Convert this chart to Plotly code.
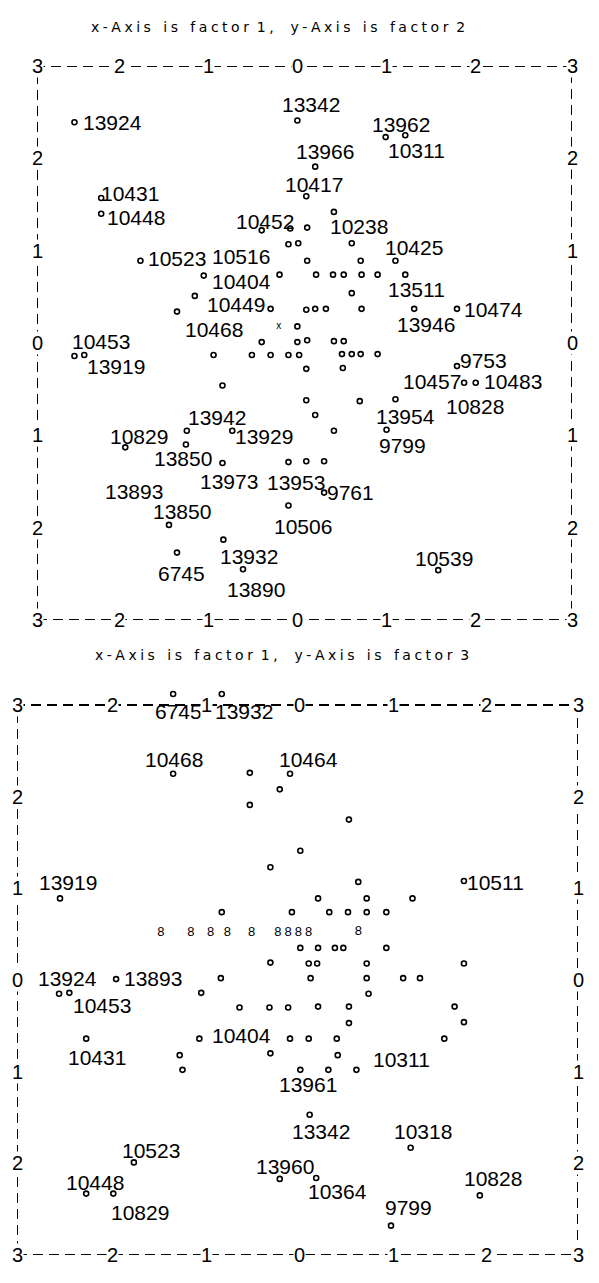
import plotly.graph_objects as go

# ---------------- data: panel 1 (factor 1 vs factor 2) ----------------
top_f1 = [-2.58, -0.08, 0.91, 1.13, 0.12, 0.02, -2.28, -2.28, 0.33, -0.48,
          -0.16, 0.03, -0.18, -0.07, 0.53, -1.84, 0.03, 0.63, 1.02, -1.13,
          -0.28, 0.13, 0.32, 0.44, 0.64, 0.82, 1.13, 0.53, -1.23, -1.43,
          -0.38, 0.02, 0.12, 0.24, 0.64, 1.23, 1.71, -0.08, -0.48, -0.08,
          0.03, 0.33, 0.44, -2.58, -2.47, -1.02, -0.59, -0.38, -0.18, -0.06,
          0.42, 0.53, 0.63, 0.82, 0.02, 0.43, 1.71, 1.79, 1.92, -0.92,
          0.02, 0.62, 1.02, 0.12, -1.32, -0.81, 0.33, 0.92, -1.33, -2.01,
          -0.92, -0.18, 0.02, 0.22, 0.22, -1.52, -0.18, -0.91, -1.43, -0.69,
          1.50]
top_f2 = [2.39, 2.41, 2.23, 2.25, 1.91, 1.59, 1.57, 1.40, 1.42, 1.22,
          1.24, 1.25, 1.07, 1.08, 1.08, 0.89, 0.89, 0.89, 0.89, 0.73,
          0.74, 0.74, 0.74, 0.74, 0.74, 0.74, 0.74, 0.54, 0.51, 0.34,
          0.37, 0.36, 0.37, 0.37, 0.37, 0.37, 0.37, 0.18, 0.01, 0.01,
          0.03, 0.02, 0.02, -0.14, -0.13, -0.13, -0.13, -0.13, -0.13, -0.13,
          -0.12, -0.12, -0.12, -0.12, -0.28, -0.27, -0.25, -0.43, -0.43, -0.46,
          -0.62, -0.63, -0.61, -0.78, -0.95, -0.95, -0.95, -0.94, -1.10, -1.13,
          -1.30, -1.29, -1.28, -1.28, -1.62, -1.97, -1.76, -2.13, -2.27, -2.45,
          -2.46]
top_cross_f1 = [-0.29]
top_cross_f2 = [0.18]
top_label_text = ["13924", "13342", "13962", "10311", "13966", "10417", "10431", "10448",
                  "10238", "10452", "10523", "10516", "10425", "10404", "13511", "10449",
                  "10468", "13946", "10474", "10453", "13919", "9753", "10457", "10483",
                  "10828", "13954", "9799", "13942", "13929", "10829", "13850", "13973",
                  "13893", "13850", "13953", "9761", "10506", "13932", "6745", "13890",
                  "10539"]
top_label_point = [0, 1, 2, 3, 4, 5, 6, 7,
                   8, 9, 15, 12, 18, 19, 26, 30,
                   29, 35, 36, 43, 44, 56, 57, 58,
                   58, 62, 67, 64, 65, 69, 70, 70,
                   75, 75, 71, 74, 76, 77, 78, 79,
                   80]

# ---------------- data: panel 2 (factor 1 vs factor 3) ----------------
bot_f1 = [-1.33, -0.81, -1.33, -0.08, -0.51, -0.19, -0.51, 0.55, 0.03, -0.29,
          -2.54, 1.78, 0.65, 0.22, 0.74, 1.23, -0.81, -0.06, 0.34, 0.54,
          0.74, 0.95, 0.03, 0.22, 0.40, 0.49, 0.95, -0.29, 0.12, 0.21,
          0.74, 1.78, -1.94, -0.82, 0.14, 0.74, 1.13, 1.31, -2.55, -2.44,
          -1.03, 0.76, -0.62, -0.30, -0.10, 0.22, 0.55, 1.68, 0.55, 1.78,
          -2.26, -1.05, -0.08, 0.12, 0.42, 1.57, -0.29, -1.26, 0.43, -1.23,
          0.03, 0.33, 0.63, 0.13, 1.21, -1.75, -0.19, 0.20, 1.95, 1.00,
          -2.26, -1.97]
bot_f3 = [3.12, 3.12, 2.25, 2.25, 2.26, 2.08, 1.91, 1.75, 1.41, 1.23,
          0.89, 1.08, 1.07, 0.89, 0.89, 0.89, 0.74, 0.74, 0.74, 0.74,
          0.74, 0.74, 0.35, 0.35, 0.35, 0.35, 0.35, 0.19, 0.18, 0.18,
          0.18, 0.18, 0.01, 0.02, 0.02, 0.02, 0.02, 0.02, -0.15, -0.14,
          -0.14, -0.15, -0.30, -0.30, -0.30, -0.29, -0.29, -0.29, -0.47, -0.46,
          -0.64, -0.64, -0.64, -0.64, -0.64, -0.64, -0.80, -0.82, -0.82, -0.98,
          -0.98, -0.98, -0.98, -1.47, -1.83, -1.99, -2.17, -2.16, -2.35, -2.68,
          -2.33, -2.33]
# coincident pairs, plotted as "8"
bot_pair_f1 = [-1.46, -1.14, -0.93, -0.75, -0.49, -0.21, -0.10, 0.01, 0.12, 0.65]
bot_pair_f3 = [0.51, 0.51, 0.51, 0.51, 0.51, 0.51, 0.51, 0.51, 0.51, 0.53]
bot_label_text = ["6745", "13932", "10468", "10464", "13919", "10511", "13924", "13893",
                  "10453", "10431", "10404", "10311", "13961", "13342", "10318", "10523",
                  "13960", "10364", "10828", "9799", "10448", "10829"]
bot_label_point = [0, 1, 2, 3, 10, 11, 38, 32,
                   39, 50, 51, 55, 60, 63, 64, 65,
                   66, 67, 68, 69, 70, 71]

ticks = [-3, -2, -1, 0, 1, 2, 3]
tick_text = ["3", "2", "1", "0", "1", "2", "3"]
titles = ["x-Axis  is  factor 1,   y-Axis  is  factor 2",
          "x-Axis  is  factor 1,   y-Axis  is  factor 3"]

# ---------------- styles ----------------
top_label_shift = [(38, 0), (14, 16), (15, 13), (11, -15), (10, 15), (8, 12), (29, 5), (35, -4),
                   (25, -15), (3, 9), (37, 2), (-47, -12), (19, 13), (38, -6), (11, -15), (-35, 4),
                   (37, -18), (12, -16), (37, -1), (27, 14), (32, -11), (27, 6), (-32, 1), (37, 1),
                   (-1, -24), (10, -17), (16, -16), (30, 13), (32, -6), (14, 11), (-39, 5), (7, -18),
                   (-35, 33), (13, 13), (8, -20), (26, 0), (15, -21), (26, -17), (5, -21), (13, -20),
                   (6, 12)]
bot_label_shift = [(5, -18), (22, -18), (1, 14), (18, 14), (8, 16), (32, -2), (8, 15), (37, 1),
                   (33, -13), (11, -19), (42, 3), (-43, -21), (8, -15), (11, -17), (12, 16), (17, 12),
                   (5, 12), (21, -14), (13, 17), (17, 18), (9, 11), (27, -19)]
top_tick_xshift = -7
bot_tick_xshift = 2

FONT = "Liberation Sans, Arial, sans-serif"
LABEL_SIZE = 21
TICK_SIZE = 20
INK = "black"

# page geometry (the page body adds an 8 px margin)
PAGE_W, PAGE_H, BODY = 599, 1283, 8
W, H = PAGE_W - 2 * BODY, PAGE_H - 2 * BODY
BOX = 3.0
top_box = (37, 572, 66, 620)      # page px of the +-3 box: left, right, top, bottom
bot_box = (17, 578, 705, 1255)
top_xr, top_yr = [-3.0, 3.0], [-3.0, 3.0]
bot_xr, bot_yr = [-3.0, 3.0], [-3.0, 3.35]

def extent(lo_px, hi_px, rng, flip=False):
    # pixel extent of an axis whose +-BOX values sit at lo_px / hi_px
    ppu = (hi_px - lo_px) / (2 * BOX)
    if flip:   # vertical: hi value at top (lo_px)
        return lo_px - (rng[1] - BOX) * ppu, hi_px + (-BOX - rng[0]) * ppu
    return lo_px - (rng[0] + BOX) * ppu, hi_px + (rng[1] - BOX) * ppu

tx = extent(top_box[0], top_box[1], top_xr)
ty = extent(top_box[2], top_box[3], top_yr, flip=True)
bx = extent(bot_box[0], bot_box[1], bot_xr)
by = extent(bot_box[2], bot_box[3], bot_yr, flip=True)

left = min(tx[0], bx[0]) - BODY
right = max(tx[1], bx[1]) - BODY
top = ty[0] - BODY
bottom = by[1] - BODY
ML, MR, MT, MB = left, W - right, top, H - bottom
plot_w, plot_h = right - left, bottom - top

def xdom(e):
    return [(e[0] - BODY - left) / plot_w, (e[1] - BODY - left) / plot_w]

def ydom(e):
    return [1 - (e[1] - BODY - top) / plot_h, 1 - (e[0] - BODY - top) / plot_h]

fig = go.Figure()

def spaced(s):
    out = []
    for ch in s:
        if ch == " ":
            out.append("\u00a0")
        else:
            out.append(ch + "\u2005")
    return "".join(out).rstrip("\u2005")

def panel(f1, f2, xr, yr, lab_text, lab_pt, lab_shift, tick_xshift):
    fig.add_trace(go.Scatter(
        x=f1, y=f2, mode="markers", xaxis=xr, yaxis=yr, cliponaxis=False,
        marker=dict(symbol="circle-open", size=5, color=INK, line=dict(width=1.6, color=INK)),
        showlegend=False, hoverinfo="skip"))
    for t, i, (dx, dy) in zip(lab_text, lab_pt, lab_shift):
        fig.add_annotation(x=f1[i], y=f2[i], xref=xr, yref=yr, text=t, showarrow=False,
                           xshift=dx, yshift=dy, xanchor="center", yanchor="middle",
                           font=dict(family=FONT, size=LABEL_SIZE, color=INK))
    fig.add_shape(type="rect", xref=xr, yref=yr, x0=ticks[0], x1=ticks[-1], y0=ticks[0], y1=ticks[-1],
                  line=dict(color=INK, width=2, dash="10px,6px"), layer="below")
    tf = dict(family=FONT, size=TICK_SIZE, color=INK)
    for v, s in zip(ticks, tick_text):
        shift = 0 if abs(v) == 3 else tick_xshift
        for yy in (ticks[-1], ticks[0]):
            fig.add_annotation(x=v, y=yy, xref=xr, yref=yr, text=s, showarrow=False, font=tf,
                               xshift=shift, bgcolor="white", borderpad=0)
        if abs(v) != 3:
            for xx in (ticks[0], ticks[-1]):
                fig.add_annotation(x=xx, y=v, xref=xr, yref=yr, text=s, showarrow=False, font=tf,
                                   bgcolor="white", borderpad=0)

panel(top_f1, top_f2, "x", "y", top_label_text, top_label_point, top_label_shift, top_tick_xshift)
panel(bot_f1, bot_f3, "x2", "y2", bot_label_text, bot_label_point, bot_label_shift, bot_tick_xshift)

fig.add_trace(go.Scatter(x=top_cross_f1, y=top_cross_f2, mode="text", text=["x"] * len(top_cross_f1),
                         textfont=dict(family=FONT, size=10, color=INK), xaxis="x", yaxis="y",
                         showlegend=False, hoverinfo="skip"))
fig.add_trace(go.Scatter(x=bot_pair_f1, y=bot_pair_f3, mode="text", text=["8"] * len(bot_pair_f1),
                         textfont=dict(family=FONT, size=13, color=INK), xaxis="x2", yaxis="y2",
                         showlegend=False, hoverinfo="skip"))

title_font = dict(family="DejaVu Sans, sans-serif", size=14, color=INK)
for t, (px, py) in zip(titles, [(278, 17), (282, 655)]):
    fig.add_annotation(x=(px - BODY - left) / plot_w, y=1 - (py - BODY - top) / plot_h,
                       xref="paper", yref="paper", text=spaced(t), showarrow=False, font=title_font)

axis_common = dict(visible=False, fixedrange=True)
fig.update_layout(
    width=W, height=H, margin=dict(l=ML, r=MR, t=MT, b=MB, pad=0),
    paper_bgcolor="white", plot_bgcolor="white", showlegend=False,
    xaxis=dict(domain=xdom(tx), anchor="y", range=top_xr, **axis_common),
    yaxis=dict(domain=ydom(ty), anchor="x", range=top_yr, **axis_common),
    xaxis2=dict(domain=xdom(bx), anchor="y2", range=bot_xr, **axis_common),
    yaxis2=dict(domain=ydom(by), anchor="x2", range=bot_yr, **axis_common),
)

fig.write_html("out.html")
